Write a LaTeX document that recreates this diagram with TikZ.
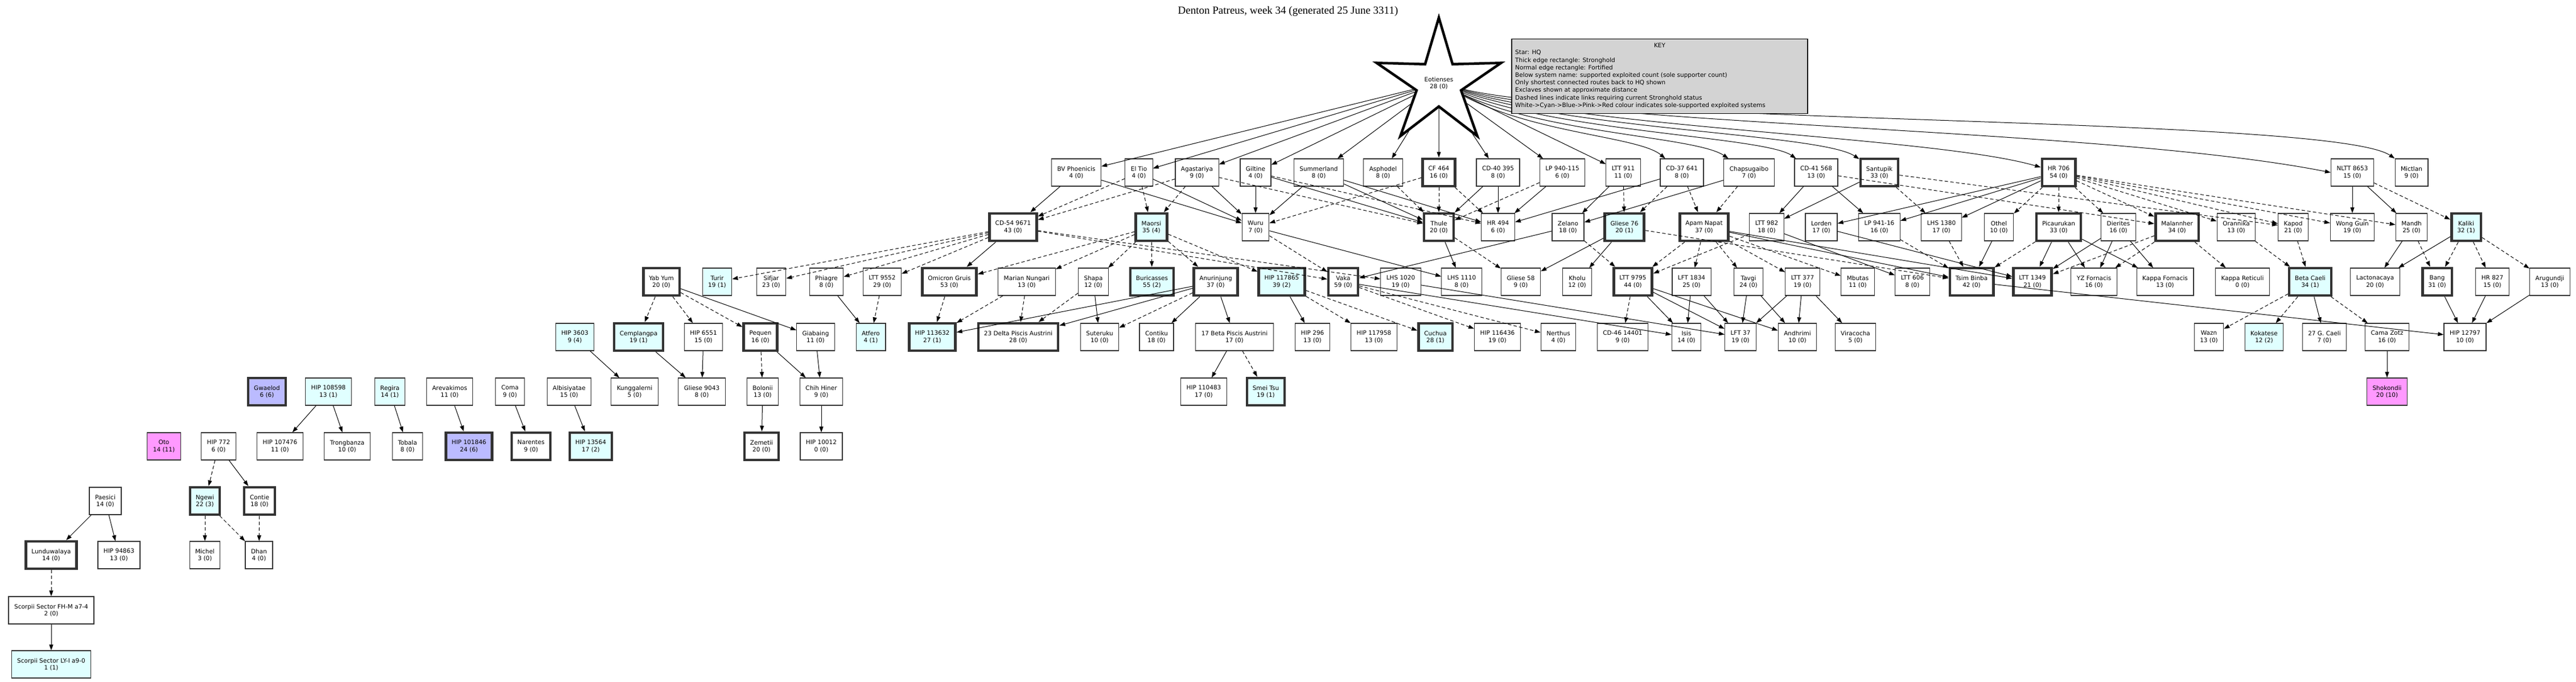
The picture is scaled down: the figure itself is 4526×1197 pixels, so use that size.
\documentclass[tikz,border=0pt]{standalone}
\usepackage{fontspec}
\setmainfont{DejaVu Sans}
\newfontfamily\titlefont{Liberation Serif}
\usetikzlibrary{shapes.geometric,arrows.meta}
\definecolor{cyansys}{RGB}{224,255,255}
\definecolor{bluesys}{RGB}{187,187,255}
\definecolor{pinksys}{RGB}{255,153,255}
\definecolor{keygray}{RGB}{211,211,211}
\tikzset{
    sys/.style={draw=black!80, line width=1.2pt, fill=white, align=center,
        minimum height=48pt, inner xsep=10pt, font=\fontsize{10.5}{12.5}\selectfont},
    strong/.style={line width=4.5pt},
    cyanbox/.style={fill=cyansys},
    bluebox/.style={fill=bluesys},
    pinkbox/.style={fill=pinksys},
    link/.style={line width=1pt, -{Triangle[length=10pt,width=7pt]}},
    weak/.style={link, dashed, dash pattern=on 6pt off 4pt}
}
\begin{document}
\begin{tikzpicture}[x=1pt, y=-1pt]
    \useasboundingbox (0,0) rectangle (4526,1197);
    % Title
    \node[font=\titlefont\fontsize{19}{22}\selectfont] (title) at (2263,20) {Denton Patreus, week 34 (generated 25 June 3311)};
    % HQ
    \node[star, star points=5, star point ratio=2.8, draw, line width=4.5pt, fill=white, minimum size=230pt,
        inner sep=0pt, align=center, font=\fontsize{10.5}{12.5}\selectfont] (hq) at (2528,146) {Eotienses\\28 (0)};
    % Row 1
    \node[sys] (bvp) at (1891,303) {BV Phoenicis\\4 (0)};
    \node[sys] (eltio) at (2001,303) {El Tio\\4 (0)};
    \node[sys] (agast) at (2103,303) {Agastariya\\9 (0)};
    \node[sys] (giltine) at (2206,303) {Giltine\\4 (0)};
    \node[sys] (summer) at (2317,303) {Summerland\\8 (0)};
    \node[sys] (asphodel) at (2430,303) {Asphodel\\8 (0)};
    \node[sys, strong] (cf464) at (2528,303) {CF 464\\16 (0)};
    \node[sys] (cd40) at (2632,303) {CD-40 395\\8 (0)};
    \node[sys] (lp940) at (2745,303) {LP 940-115\\6 (0)};
    \node[sys] (ltt911) at (2852,303) {LTT 911\\11 (0)};
    \node[sys] (cd37) at (2955,303) {CD-37 641\\8 (0)};
    \node[sys] (chaps) at (3073,303) {Chapsugaibo\\7 (0)};
    \node[sys] (cd41) at (3191,303) {CD-41 568\\13 (0)};
    \node[sys, strong] (santupik) at (3302,303) {Santupik\\33 (0)};
    \node[sys, strong] (hr706) at (3617,303) {HR 706\\54 (0)};
    \node[sys] (nltt) at (4133,303) {NLTT 8653\\15 (0)};
    \node[sys] (mictlan) at (4237,303) {Mictlan\\9 (0)};
    % Row 2
    \node[sys, strong] (cd54) at (1780,399) {CD-54 9671\\43 (0)};
    \node[sys, strong, cyanbox] (maorsi) at (2023,399) {Maorsi\\35 (4)};
    \node[sys] (wuru) at (2206,399) {Wuru\\7 (0)};
    \node[sys, strong] (thule) at (2528,399) {Thule\\20 (0)};
    \node[sys] (hr494) at (2632,399) {HR 494\\6 (0)};
    \node[sys] (zelano) at (2755,399) {Zelano\\18 (0)};
    \node[sys, strong, cyanbox] (gl76) at (2854,399) {Gliese 76\\20 (1)};
    \node[sys, strong] (apam) at (2994,399) {Apam Napat\\37 (0)};
    \node[sys] (ltt982) at (3104,399) {LTT 982\\18 (0)};
    \node[sys] (lorden) at (3200,399) {Lorden\\17 (0)};
    \node[sys] (lp941) at (3302,399) {LP 941-16\\16 (0)};
    \node[sys] (lhs1380) at (3411,399) {LHS 1380\\17 (0)};
    \node[sys] (othel) at (3512,399) {Othel\\10 (0)};
    \node[sys, strong] (picau) at (3617,399) {Picaurukan\\33 (0)};
    \node[sys] (dierites) at (3722,399) {Dierites\\16 (0)};
    \node[sys, strong] (malann) at (3825,399) {Malannher\\34 (0)};
    \node[sys] (orannika) at (3929,399) {Orannika\\13 (0)};
    \node[sys] (kapod) at (4029,399) {Kapod\\21 (0)};
    \node[sys] (wong) at (4133,399) {Wong Guin\\19 (0)};
    \node[sys] (mandh) at (4237,399) {Mandh\\25 (0)};
    \node[sys, strong, cyanbox] (kaliki) at (4333,399) {Kaliki\\32 (1)};
    % Row 3
    \node[sys, strong] (yabyum) at (1162,495) {Yab Yum\\20 (0)};
    \node[sys, cyanbox] (turir) at (1260,495) {Turir\\19 (1)};
    \node[sys] (sifjar) at (1355,495) {Sifjar\\23 (0)};
    \node[sys] (phiagre) at (1452,495) {Phiagre\\8 (0)};
    \node[sys] (ltt9552) at (1550,495) {LTT 9552\\29 (0)};
    \node[sys, strong] (omicron) at (1668,495) {Omicron Gruis\\53 (0)};
    \node[sys] (marian) at (1804,495) {Marian Nungari\\13 (0)};
    \node[sys] (shapa) at (1921,495) {Shapa\\12 (0)};
    \node[sys, strong, cyanbox] (buric) at (2024,495) {Buricasses\\55 (2)};
    \node[sys, strong] (anurin) at (2136,495) {Anurinjung\\37 (0)};
    \node[sys, strong, cyanbox] (hip117865) at (2252,495) {HIP 117865\\39 (2)};
    \node[sys, strong] (vaka) at (2360,495) {Vaka\\59 (0)};
    \node[sys] (lhs1020) at (2461,495) {LHS 1020\\19 (0)};
    \node[sys] (lhs1110) at (2568,495) {LHS 1110\\8 (0)};
    \node[sys] (gl58) at (2672,495) {Gliese 58\\9 (0)};
    \node[sys] (kholu) at (2771,495) {Kholu\\12 (0)};
    \node[sys, strong] (ltt9795) at (2869,495) {LTT 9795\\44 (0)};
    \node[sys] (lft1834) at (2972,495) {LFT 1834\\25 (0)};
    \node[sys] (tavgi) at (3072,495) {Tavgi\\24 (0)};
    \node[sys] (ltt377) at (3167,495) {LTT 377\\19 (0)};
    \node[sys] (mbutas) at (3264,495) {Mbutas\\11 (0)};
    \node[sys] (ltt606) at (3360,495) {LTT 606\\8 (0)};
    \node[sys, strong] (tsim) at (3464,495) {Tsim Binba\\42 (0)};
    \node[sys, strong] (ltt1349) at (3571,495) {LTT 1349\\21 (0)};
    \node[sys] (yzfor) at (3679,495) {YZ Fornacis\\16 (0)};
    \node[sys] (kapfor) at (3804,495) {Kappa Fornacis\\13 (0)};
    \node[sys] (kapret) at (3940,495) {Kappa Reticuli\\0 (0)};
    \node[sys, strong, cyanbox] (betac) at (4059,495) {Beta Caeli\\34 (1)};
    \node[sys] (lacto) at (4173,495) {Lactonacaya\\20 (0)};
    \node[sys, strong] (bang) at (4282,495) {Bang\\31 (0)};
    \node[sys] (hr827) at (4379,495) {HR 827\\15 (0)};
    \node[sys] (arugu) at (4480,495) {Arugundji\\13 (0)};
    % Row 4
    \node[sys, cyanbox] (hip3603) at (1010,592) {HIP 3603\\9 (4)};
    \node[sys, strong, cyanbox] (cemp) at (1122,592) {Cemplangpa\\19 (1)};
    \node[sys] (hip6551) at (1236,592) {HIP 6551\\15 (0)};
    \node[sys, strong] (pequen) at (1336,592) {Pequen\\16 (0)};
    \node[sys] (giab) at (1433,592) {Giabaing\\11 (0)};
    \node[sys, cyanbox] (atfero) at (1530,592) {Atfero\\4 (1)};
    \node[sys, strong, cyanbox] (hip113632) at (1638,592) {HIP 113632\\27 (1)};
    \node[sys, strong] (delta23) at (1789,592) {23 Delta Piscis Austrini\\28 (0)};
    \node[sys] (suteruku) at (1932,592) {Suteruku\\10 (0)};
    \node[sys] (contiku) at (2032,592) {Contiku\\18 (0)};
    \node[sys] (beta17) at (2169,592) {17 Beta Piscis Austrini\\17 (0)};
    \node[sys] (hip296) at (2306,592) {HIP 296\\13 (0)};
    \node[sys] (hip117958) at (2414,592) {HIP 117958\\13 (0)};
    \node[sys, strong, cyanbox] (cuchua) at (2522,592) {Cuchua\\28 (1)};
    \node[sys] (hip116436) at (2631,592) {HIP 116436\\19 (0)};
    \node[sys] (nerthus) at (2738,592) {Nerthus\\4 (0)};
    \node[sys] (cd46) at (2851,592) {CD-46 14401\\9 (0)};
    \node[sys] (isis) at (2963,592) {Isis\\14 (0)};
    \node[sys] (lft37) at (3058,592) {LFT 37\\19 (0)};
    \node[sys] (andhr) at (3158,592) {Andhrimi\\10 (0)};
    \node[sys] (viraco) at (3260,592) {Viracocha\\5 (0)};
    \node[sys] (wazn) at (3881,592) {Wazn\\13 (0)};
    \node[sys, cyanbox] (kokat) at (3978,592) {Kokatese\\12 (2)};
    \node[sys] (caeli27) at (4084,592) {27 G. Caeli\\7 (0)};
    \node[sys] (camazotz) at (4194,592) {Cama Zotz\\16 (0)};
    \node[sys] (hip12797) at (4331,592) {HIP 12797\\10 (0)};
    % Row 5
    \node[sys, strong, bluebox] (gwaelod) at (469,688) {Gwaelod\\6 (6)};
    \node[sys, cyanbox] (hip108598) at (577,688) {HIP 108598\\13 (1)};
    \node[sys, cyanbox] (regira) at (685,688) {Regira\\14 (1)};
    \node[sys] (arevak) at (790,688) {Arevakimos\\11 (0)};
    \node[sys] (coma) at (896,688) {Coma\\9 (0)};
    \node[sys] (albis) at (1000,688) {Albisiyatae\\15 (0)};
    \node[sys] (kungg) at (1115,688) {Kunggalerni\\5 (0)};
    \node[sys] (gl9043) at (1233,688) {Gliese 9043\\8 (0)};
    \node[sys] (bolonii) at (1340,688) {Bolonii\\13 (0)};
    \node[sys] (chih) at (1443,688) {Chih Hiner\\9 (0)};
    \node[sys] (hip110483) at (2115,688) {HIP 110483\\17 (0)};
    \node[sys, strong, cyanbox] (smei) at (2224,688) {Smei Tsu\\19 (1)};
    \node[sys, pinkbox] (shok) at (4194,688) {Shokondii\\20 (10)};
    % Row 6
    \node[sys, pinkbox] (oto) at (288,784) {Oto\\14 (11)};
    \node[sys] (hip772) at (384,784) {HIP 772\\6 (0)};
    \node[sys] (hip107476) at (492,784) {HIP 107476\\11 (0)};
    \node[sys] (trong) at (610,784) {Trongbanza\\10 (0)};
    \node[sys] (tobala) at (716,784) {Tobala\\8 (0)};
    \node[sys, strong, bluebox] (hip101846) at (824,784) {HIP 101846\\24 (6)};
    \node[sys, strong] (narentes) at (933,784) {Narentes\\9 (0)};
    \node[sys, strong, cyanbox] (hip13564) at (1038,784) {HIP 13564\\17 (2)};
    \node[sys, strong] (zemetii) at (1338,784) {Zemetii\\20 (0)};
    \node[sys] (hip10012) at (1443,784) {HIP 10012\\0 (0)};
    % Rows 7 to 10
    \node[sys] (paesici) at (185,880) {Paesici\\14 (0)};
    \node[sys, strong, cyanbox] (ngewi) at (360,880) {Ngewi\\22 (3)};
    \node[sys, strong] (contie) at (456,880) {Contie\\18 (0)};
    \node[sys, strong] (lundu) at (90,975) {Lunduwalaya\\14 (0)};
    \node[sys] (hip94863) at (209,975) {HIP 94863\\13 (0)};
    \node[sys] (michel) at (360,975) {Michel\\3 (0)};
    \node[sys] (dhan) at (455,975) {Dhan\\4 (0)};
    \node[sys] (fhm) at (90,1072) {Scorpii Sector FH-M a7-4\\2 (0)};
    \node[sys, cyanbox] (lyi) at (90,1167) {Scorpii Sector LY-I a9-0\\1 (1)};
    % Routes from HQ passing under the key
    \draw[link] (hq) .. controls (2700,235) and (2880,240) .. (cd37);
    \draw[link] (hq) .. controls (2720,235) and (2980,240) .. (chaps);
    \draw[link] (hq) .. controls (2740,232) and (3100,240) .. (cd41);
    \draw[link] (hq) .. controls (2760,228) and (3200,235) .. (santupik);
    \draw[link] (hq) .. controls (2780,225) and (3400,240) .. (hr706);
    \draw[link] (hq) .. controls (2800,222) and (3700,225) .. (nltt.west);
    \draw[link] (hq) .. controls (2820,218) and (4100,205) .. (mictlan.north west);
    % Routes
    \foreach \a/\b in {hq/bvp, hq/eltio, hq/agast, hq/giltine, hq/summer, hq/asphodel, hq/cf464, hq/cd40,
        hq/lp940, hq/ltt911,
        bvp/cd54, bvp/wuru, eltio/wuru, agast/wuru, giltine/wuru, giltine/thule, summer/wuru, summer/thule,
        summer/hr494, cd40/thule, cd40/hr494, lp940/hr494, ltt911/zelano, cd37/hr494, chaps/zelano,
        cd41/ltt982, cd41/lp941, santupik/ltt982, hr706/lp941, hr706/lhs1380, hr706/lorden,
        nltt/wong, nltt/mandh, cd54/omicron, wuru/lhs1110, thule/lhs1110, zelano/vaka, gl76/gl58,
        gl76/kholu, apam/tsim, apam/ltt1349, ltt982/ltt606, lorden/ltt1349, othel/tsim, picau/ltt1349,
        picau/yzfor, picau/kapfor, dierites/ltt1349, dierites/yzfor, dierites/kapfor, mandh/lacto,
        kaliki/lacto, yabyum/giab, phiagre/atfero, shapa/suteruku, anurin/hip113632, anurin/delta23,
        anurin/contiku, anurin/beta17, hip117865/hip296, vaka/isis, lhs1020/lft37, ltt9795/isis,
        ltt9795/lft37, ltt9795/andhr, lft1834/lft37, lft1834/isis, tavgi/lft37, tavgi/andhr,
        ltt377/andhr, ltt377/lft37, ltt377/viraco, betac/caeli27, bang/hip12797, hr827/hip12797,
        arugu/hip12797, tsim/hip12797, hip3603/kungg, cemp/gl9043, hip6551/gl9043, pequen/chih,
        giab/chih, beta17/hip110483, camazotz/shok, hip108598/hip107476, hip108598/trong,
        regira/tobala, arevak/hip101846, coma/narentes, albis/hip13564, bolonii/zemetii,
        chih/hip10012, hip772/contie, paesici/lundu, paesici/hip94863, fhm/lyi}
        \draw[link] (\a) -- (\b);
    \foreach \a/\b in {eltio/maorsi, eltio/cd54, agast/cd54, agast/maorsi, agast/thule, giltine/hr494,
        asphodel/thule, cf464/thule, cf464/hr494, cf464/wuru, lp940/thule, ltt911/gl76, cd37/gl76,
        cd37/apam, chaps/apam, cd41/malann, santupik/lhs1380, santupik/kapod, hr706/othel,
        hr706/picau, hr706/dierites, hr706/malann, hr706/orannika, hr706/kapod, hr706/wong,
        hr706/mandh, nltt/kaliki, cd54/turir, cd54/sifjar, cd54/phiagre, cd54/ltt9552, cd54/lhs1020,
        cd54/vaka, maorsi/marian, maorsi/shapa, maorsi/buric, maorsi/anurin, maorsi/hip117865,
        maorsi/omicron, wuru/vaka, thule/gl58, zelano/ltt9795, gl76/tsim, apam/ltt9795, apam/lft1834,
        apam/tavgi, apam/ltt377, apam/mbutas, ltt982/ltt9795, lp941/tsim, lhs1380/tsim, picau/tsim,
        malann/kapret, malann/ltt1349, malann/yzfor, orannika/betac, kapod/betac, mandh/bang,
        kaliki/bang, kaliki/hr827, kaliki/arugu, yabyum/cemp, yabyum/hip6551, yabyum/pequen,
        ltt9552/atfero, omicron/hip113632, marian/delta23, marian/hip113632, shapa/delta23,
        anurin/suteruku, hip117865/hip117958, hip117865/cuchua, vaka/hip116436, vaka/nerthus,
        ltt9795/cd46, betac/wazn, betac/kokat, betac/camazotz, pequen/bolonii, beta17/smei,
        hip772/ngewi, ngewi/michel, ngewi/dhan, contie/dhan, lundu/fhm}
        \draw[weak] (\a) -- (\b);
    % Key
    \node[draw, line width=1.2pt, fill=keygray, minimum width=520pt, minimum height=131pt] (key) at (2916,134) {};
    \node[font=\fontsize{10.5}{13}\selectfont] (keyhead) at (2916,80) {KEY};
    \node[anchor=north west, align=left, inner sep=0pt, font=\fontsize{10.5}{13.2}\selectfont] (keytext) at (2662,88)
        {Star: HQ\\Thick edge rectangle: Stronghold\\Normal edge rectangle: Fortified\\
        Below system name: supported exploited count (sole supporter count)\\Only shortest connected routes back to HQ shown\\
        Exclaves shown at approximate distance\\Dashed lines indicate links requiring current Stronghold status\\
        White->Cyan->Blue->Pink->Red colour indicates sole-supported exploited systems};
\end{tikzpicture}
\end{document}
